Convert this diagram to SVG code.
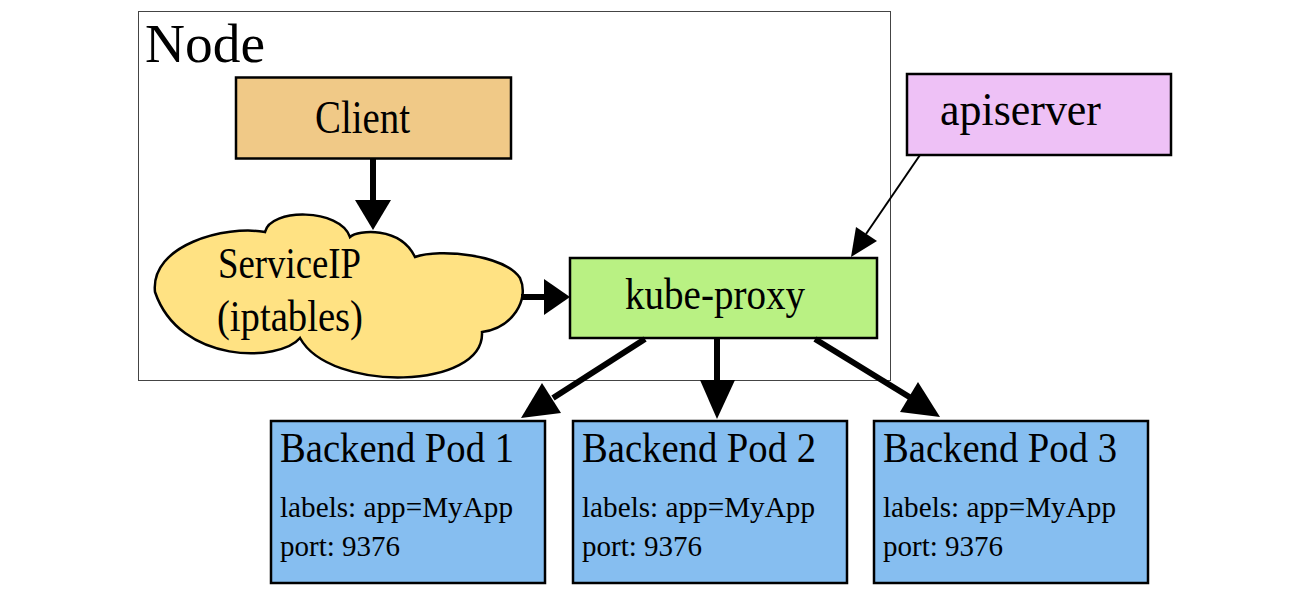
<svg xmlns="http://www.w3.org/2000/svg" width="1311" height="592" viewBox="0 0 1311 592">
<style>
text{font-family:"Liberation Serif","Times New Roman",serif;fill:#000}
.box{stroke:#000;stroke-width:2.5}
.pod{fill:#86BEF0}
.thick{stroke:#000;stroke-width:6;fill:none}
.thin{stroke:#000;stroke-width:2;fill:none}
.head{fill:#000}
.t42{font-size:42px}
.t30{font-size:30px}
</style>
<rect width="1311" height="592" fill="#fff"/>
<g id="node-container">
<rect x="138.5" y="11.5" width="752" height="369" fill="none" stroke="#444" stroke-width="1"/>
<text x="145" y="62" font-size="55" textLength="120" lengthAdjust="spacingAndGlyphs">Node</text>
</g>
<g id="client">
<rect class="box" x="236" y="77.5" width="275" height="81" fill="#F0C987"/>
<text x="315" y="133" font-size="46" textLength="95" lengthAdjust="spacingAndGlyphs">Client</text>
</g>
<g id="serviceip">
<path class="box" fill="#FFE283" stroke-width="2" d="M265,232 C270,208 340,208 350,237 C358,230 400,226 415,257 C440,248 505,255 520,278 C530,300 512,328 482,332 C485,390 330,393 300,338 C280,362 180,365 155,292 C150,245 225,225 265,232 Z"/>
<text x="218" y="278" font-size="44" textLength="143" lengthAdjust="spacingAndGlyphs">ServiceIP</text>
<text x="217" y="331" font-size="44" textLength="146" lengthAdjust="spacingAndGlyphs">(iptables)</text>
</g>
<g id="kube-proxy">
<rect class="box" x="570" y="258" width="307" height="80" fill="#B9F183"/>
<text x="625" y="309" font-size="44" textLength="180" lengthAdjust="spacingAndGlyphs">kube-proxy</text>
</g>
<g id="apiserver">
<rect class="box" x="907" y="74" width="264" height="81" fill="#EEC1F6"/>
<text x="940" y="125" font-size="46" textLength="161" lengthAdjust="spacingAndGlyphs">apiserver</text>
</g>
<g id="pod1">
<rect class="box pod" x="271" y="421" width="274" height="162"/>
<text class="t42" x="280" y="462" textLength="234" lengthAdjust="spacingAndGlyphs">Backend Pod 1</text>
<text class="t30" x="280" y="517" textLength="233" lengthAdjust="spacingAndGlyphs">labels: app=MyApp</text>
<text class="t30" x="280" y="556" textLength="120" lengthAdjust="spacingAndGlyphs">port: 9376</text>
</g>
<g id="pod2">
<rect class="box pod" x="573" y="421" width="274" height="162"/>
<text class="t42" x="582" y="462" textLength="234" lengthAdjust="spacingAndGlyphs">Backend Pod 2</text>
<text class="t30" x="582" y="517" textLength="233" lengthAdjust="spacingAndGlyphs">labels: app=MyApp</text>
<text class="t30" x="582" y="556" textLength="120" lengthAdjust="spacingAndGlyphs">port: 9376</text>
</g>
<g id="pod3">
<rect class="box pod" x="874" y="421" width="274" height="162"/>
<text class="t42" x="883" y="462" textLength="234" lengthAdjust="spacingAndGlyphs">Backend Pod 3</text>
<text class="t30" x="883" y="517" textLength="233" lengthAdjust="spacingAndGlyphs">labels: app=MyApp</text>
<text class="t30" x="883" y="556" textLength="120" lengthAdjust="spacingAndGlyphs">port: 9376</text>
</g>
<g id="connectors">
<line class="thick" x1="373" y1="158" x2="373" y2="202"/>
<polygon class="head" points="355,200 391,200 373,230"/>
<line class="thick" x1="521" y1="297" x2="547" y2="297"/>
<polygon class="head" points="544,279 544,315 570,297"/>
<line class="thin" x1="920" y1="155" x2="866" y2="234"/>
<polygon class="head" points="877,241 856,227 851,257"/>
<line class="thick" x1="645" y1="339" x2="553" y2="398"/>
<polygon class="head" points="561,413 542,383 521,418"/>
<line class="thick" x1="717" y1="338" x2="717" y2="383"/>
<polygon class="head" points="700,380 735,380 717,419"/>
<line class="thick" x1="815" y1="339" x2="911" y2="398"/>
<polygon class="head" points="900,412 918,382 940,417"/>
</g>
</svg>
